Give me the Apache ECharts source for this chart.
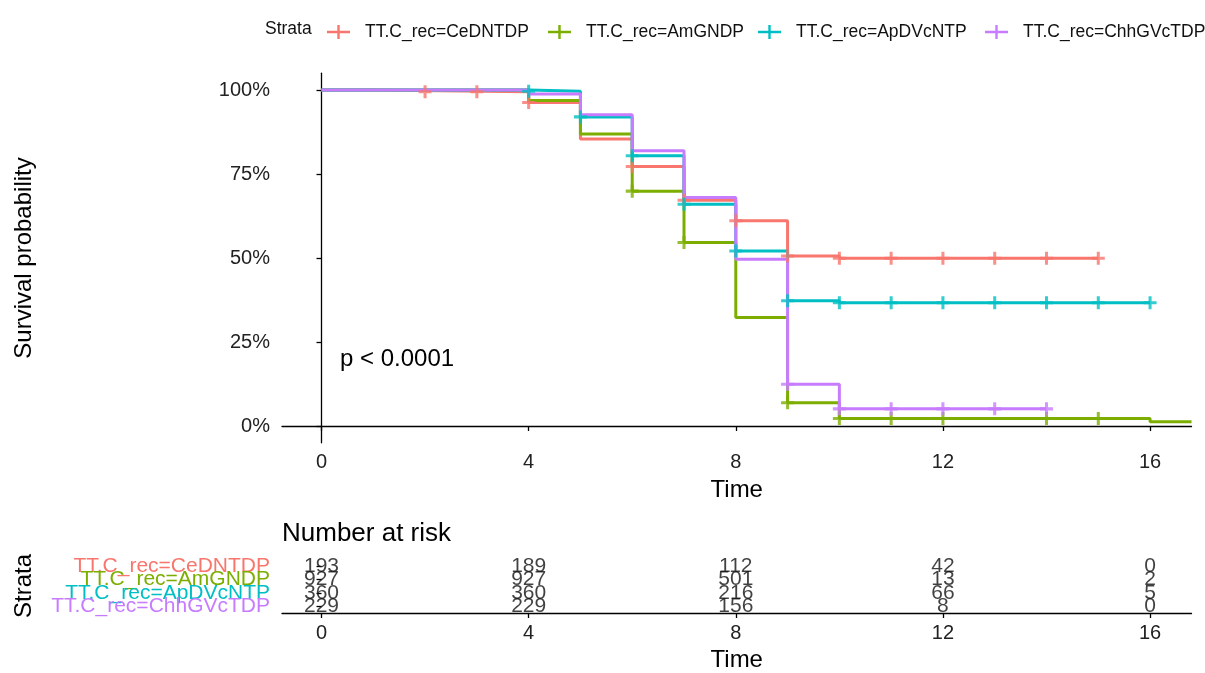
<!DOCTYPE html>
<html><head><meta charset="utf-8">
<script src="https://cdn.jsdelivr.net/npm/echarts@6/dist/echarts.min.js"></script>
<style>html,body{margin:0;padding:0;background:#fff}#c{width:1205px;height:673px}</style>
</head><body><div id="c"></div>
<script>
// ---- data ----
const strata = ['TT.C_rec=CeDNTDP', 'TT.C_rec=AmGNDP', 'TT.C_rec=ApDVcNTP', 'TT.C_rec=ChhGVcTDP'];
const colors = ['#F8766D', '#7CAE00', '#00BFC4', '#C77CFF'];

// Kaplan-Meier step points (time, survival %)
const redTime = [0, 1, 4, 5, 6, 7, 8, 9, 10, 15];
const redSurv = [100, 99.5, 96.3, 85.4, 77.2, 67.2, 61.1, 50.6, 49.9, 49.9];
const oliveTime = [0, 4, 5, 6, 7, 8, 9, 10, 16, 16.8];
const oliveSurv = [100, 96.9, 86.9, 69.9, 54.6, 32.3, 6.9, 2.2, 1.3, 1.3];
const cyanTime = [0, 4, 5, 6, 7, 8, 9, 10, 16];
const cyanSurv = [100, 99.6, 92.0, 80.4, 66.0, 52.1, 37.3, 36.7, 36.7];
const purpleTime = [0, 4, 5, 6, 7, 8, 9, 10, 14];
const purpleSurv = [100, 98.8, 92.6, 81.9, 68.0, 49.6, 12.4, 5.1, 5.1];

// censoring times
const redCensor = [2, 3, 4, 6, 7, 8, 9, 10, 11, 12, 13, 14, 15];
const oliveCensor = [6, 7, 9, 10, 11, 12, 14, 15];
const cyanCensor = [4, 5, 6, 7, 8, 9, 10, 11, 12, 13, 14, 15, 16];
const purpleCensor = [9, 10, 11, 12, 13, 14];

// number at risk
const riskTimes = [0, 4, 8, 12, 16];
const riskRed = [193, 189, 112, 42, 0];
const riskOlive = [927, 927, 501, 13, 2];
const riskCyan = [360, 360, 216, 66, 5];
const riskPurple = [229, 229, 156, 8, 0];

const xTicks = [0, 4, 8, 12, 16];
const yTicks = [0, 25, 50, 75, 100];

// ---- build ----
const groups = [
  {t: redTime, s: redSurv, c: redCensor, r: riskRed},
  {t: oliveTime, s: oliveSurv, c: oliveCensor, r: riskOlive},
  {t: cyanTime, s: cyanSurv, c: cyanCensor, r: riskCyan},
  {t: purpleTime, s: purpleSurv, c: purpleCensor, r: riskPurple}
];
function survAt(g, time) {
  let v = g.s[0];
  for (let i = 0; i < g.t.length; i++) if (g.t[i] <= time) v = g.s[i];
  return v;
}
const plusPath = 'path://M4.6,0H7.4V4.6H12V7.4H7.4V12H4.6V7.4H0V4.6H4.6Z';
const legendIcon = 'path://M0,5.8H23V8.2H0Z M10.3,0H12.7V14H10.3Z';
const FONT = '"Liberation Sans", Arial, sans-serif';
const XMIN = -0.763, XMAX = 16.80;

const series = [];
groups.forEach((g, i) => {
  series.push({
    name: strata[i], type: 'line', step: 'end', xAxisIndex: 0, yAxisIndex: 0,
    symbol: 'none', color: colors[i], lineStyle: {width: 3, color: colors[i]},
    data: g.t.map((t, k) => [t, g.s[k]]), z: 2 + i, silent: true
  });
});
groups.forEach((g, i) => {
  series.push({
    name: strata[i], type: 'scatter', xAxisIndex: 0, yAxisIndex: 0,
    symbol: plusPath, symbolSize: 13, color: colors[i], itemStyle: {color: colors[i]},
    data: g.c.map(t => [t, survAt(g, t)]), z: 10 + i, silent: true
  });
});
groups.forEach((g, i) => {
  series.push({
    type: 'scatter', xAxisIndex: 1, yAxisIndex: 1, symbolSize: 0, silent: true,
    data: riskTimes.map((t, k) => [t, strata[i], g.r[k]]),
    label: {show: true, position: 'inside', formatter: p => String(p.value[2]),
      fontSize: 21, color: '#111', fontFamily: FONT},
    labelLayout: {hideOverlap: false},
    z: 20
  });
});

const legendLefts = [327, 548, 758, 985];
const legends = strata.map((s, i) => ({
  show: true, left: legendLefts[i], top: 23, orient: 'horizontal',
  itemWidth: 23, itemHeight: 14, padding: 0,
  data: [{name: s, icon: legendIcon, itemStyle: {color: colors[i]}}],
  textStyle: {fontSize: 17.5, color: '#111', fontFamily: FONT, padding: [0, 0, 0, 10]},
  selectedMode: false
}));

const axisLineStyle = {show: true, lineStyle: {color: '#000', width: 1.3}};
const tickStyle = {show: true, length: 5, lineStyle: {color: '#000', width: 1.3}};

const option = {
  animation: false,
  backgroundColor: '#fff',
  legend: legends,
  grid: [
    {left: 282, top: 73.2, width: 909.5, height: 369.6, containLabel: false},
    {left: 282, top: 559, width: 909.5, height: 57, containLabel: false}
  ],
  xAxis: [
    {type: 'value', gridIndex: 0, min: XMIN, max: XMAX,
     axisLine: axisLineStyle, axisTick: Object.assign({customValues: xTicks}, tickStyle),
     axisLabel: {customValues: xTicks, fontSize: 20, color: '#222', margin: 10, fontFamily: FONT},
     splitLine: {show: false},
     name: 'Time', nameLocation: 'middle', nameGap: 36,
     nameTextStyle: {fontSize: 24, color: '#000', fontFamily: FONT}},
    {type: 'value', gridIndex: 1, min: XMIN, max: XMAX,
     axisLine: axisLineStyle, axisTick: Object.assign({customValues: xTicks}, tickStyle),
     axisLabel: {customValues: xTicks, fontSize: 20, color: '#222', margin: 10, fontFamily: FONT},
     splitLine: {show: false},
     name: 'Time', nameLocation: 'middle', nameGap: 35,
     nameTextStyle: {fontSize: 24, color: '#000', fontFamily: FONT}}
  ],
  yAxis: [
    {type: 'value', gridIndex: 0, min: -5, max: 105,
     axisLine: axisLineStyle, axisTick: Object.assign({customValues: yTicks}, tickStyle),
     axisLabel: {customValues: yTicks, formatter: v => v + '%', fontSize: 20, color: '#222', margin: 12, fontFamily: FONT},
     splitLine: {show: false},
     name: 'Survival probability', nameLocation: 'middle', nameGap: 246, nameRotate: 90,
     nameTextStyle: {fontSize: 24, color: '#000', fontFamily: FONT}},
    {type: 'category', gridIndex: 1, data: strata, inverse: true,
     axisLine: {show: false}, axisTick: Object.assign({alignWithLabel: true, interval: 0}, tickStyle),
     axisLabel: {interval: 0, fontSize: 21, margin: 12, fontFamily: FONT,
       color: (v, idx) => colors[strata.indexOf(v)]},
     splitLine: {show: false},
     name: 'Strata', nameLocation: 'middle', nameGap: 246, nameRotate: 90,
     nameTextStyle: {fontSize: 24, color: '#000', fontFamily: FONT}}
  ],
  graphic: [
    {type: 'text', left: 265, top: 20, style: {text: 'Strata', fill: '#111', font: '17.5px ' + FONT}},
    {type: 'text', left: 340, top: 347, style: {text: 'p < 0.0001', fill: '#000', font: '24px ' + FONT}},
    {type: 'text', left: 282, top: 521, style: {text: 'Number at risk', fill: '#000', font: '26px ' + FONT}}
  ],
  series: series
};
const chart = echarts.init(document.getElementById('c'), null, {renderer: 'canvas'});
chart.setOption(option);
</script>
</body></html>
